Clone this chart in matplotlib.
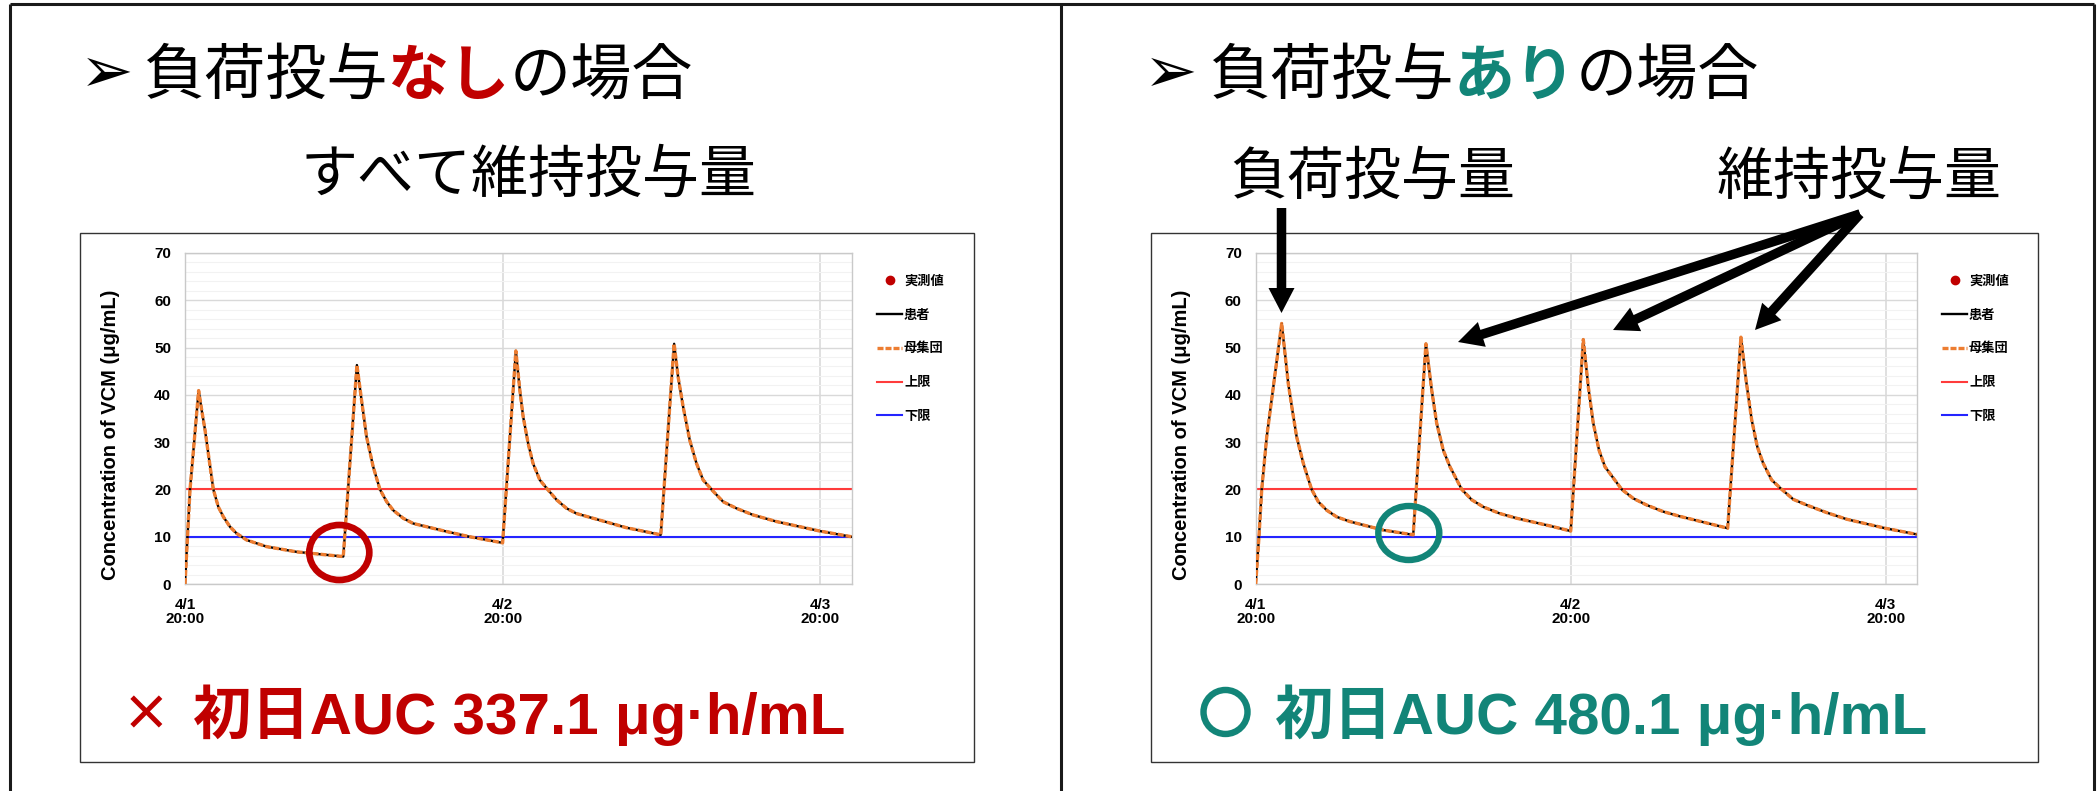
import matplotlib
matplotlib.use("Agg")
import matplotlib.pyplot as plt
import matplotlib.patheffects as pe
from matplotlib.patches import Ellipse, FancyArrow, Rectangle
from matplotlib.ticker import MultipleLocator

plt.rcParams['font.family'] = ['Liberation Sans', 'Noto Sans CJK JP', 'DejaVu Sans']

# ---- data (hours after 4/1 20:00, VCM ug/mL) ----
hours_none = [0, 0.38, 1.03, 1.26, 1.51, 1.76, 2.14, 2.52, 2.9, 3.4, 3.9, 4.66, 6.17, 8.43, 11.96,
              12.99, 13.34, 13.72, 14.22, 14.73, 15.24, 15.73, 16.49, 17.24, 19.76, 21.5, 24.0,
              25.0, 25.3, 25.55, 25.93, 26.3, 26.81, 27.4, 28.08, 28.83, 29.59, 30.84, 33.36, 35.95,
              36.96, 37.26, 37.64, 38.14, 38.65, 39.15, 39.78, 40.66, 41.67, 42.93, 44.7, 47.96, 50.35]
conc_none = [0, 20.0, 40.9, 36.8, 32.6, 27.6, 20.0, 16.3, 14.2, 12.1, 10.7, 9.3, 7.9, 6.8, 5.8,
             46.3, 38.9, 31.1, 24.8, 20.0, 17.4, 15.6, 13.9, 12.8, 11.1, 10.0, 8.7,
             49.3, 41.0, 35.4, 29.7, 25.5, 22.0, 20.0, 17.8, 16.0, 14.9, 13.9, 11.9, 10.4,
             50.8, 43.8, 37.5, 30.4, 25.5, 22.0, 20.0, 17.4, 16.0, 14.6, 13.2, 11.2, 10.0]
pop_none = conc_none  # population curve lies on the patient curve

hours_load = [0, 0.25, 0.46, 0.84, 1.98, 2.23, 2.48, 2.79, 3.12, 3.63, 4.26, 4.77, 5.41, 6.17, 7.18, 9.72, 12.0,
              12.97, 13.41, 13.79, 14.29, 14.8, 15.7, 16.46, 17.34, 18.61, 19.89, 22.4, 24.0,
              24.96, 25.34, 25.72, 26.16, 26.61, 27.89, 28.77, 29.79, 31.06, 32.33, 35.96,
              36.97, 37.36, 37.79, 38.22, 38.67, 39.31, 40.08, 40.96, 41.98, 43.5, 45.03, 47.95, 50.36]
conc_load = [0, 10.0, 20.0, 31.1, 55.1, 48.8, 42.4, 36.8, 31.1, 25.5, 20.0, 17.4, 15.6, 14.2, 13.2, 11.4, 10.4,
             50.8, 41.0, 34.0, 28.3, 24.8, 20.0, 17.8, 16.3, 14.9, 13.9, 12.3, 11.2,
             51.7, 41.7, 34.0, 28.3, 24.8, 20.0, 18.1, 16.7, 15.3, 14.3, 11.8,
             52.2, 43.1, 34.7, 29.0, 25.5, 22.0, 20.0, 17.9, 16.7, 15.1, 13.7, 11.8, 10.5]
pop_load = conc_load

measured_hours = []
measured_conc = []

upper_limit = 20
lower_limit = 10
day_ticks = [0, 24, 48]
day_labels = ['4/1\n20:00', '4/2\n20:00', '4/3\n20:00']
legend_labels = ['実測値', '患者', '母集団', '上限', '下限']

RED = '#C00000'
TEAL = '#128578'
W, H = 2098, 791


def px_rect(x0, y0, x1, y1):
    return [x0 / W, 1 - y1 / H, (x1 - x0) / W, (y1 - y0) / H]


def draw_chart(rect, hours, conc, pop):
    ax = fig.add_axes(rect, zorder=1)
    ax.plot(measured_hours, measured_conc, 'o', color=RED, ms=6, label=legend_labels[0])
    ax.plot(hours, conc, color='black', lw=1.7, zorder=3, label=legend_labels[1])
    ax.plot(hours, pop, color='#ED7D31', lw=2.4, dashes=(1.8, 0.6), zorder=4, label=legend_labels[2])
    ax.axhline(upper_limit, color='#FF3B3B', lw=1.5, zorder=2, label=legend_labels[3])
    ax.axhline(lower_limit, color='#2424FF', lw=1.5, zorder=2, label=legend_labels[4])

    ax.set_xlim(0, 50.4)
    ax.set_ylim(0, 70)
    ax.set_xticks(day_ticks, day_labels)
    ax.set_yticks(range(0, 71, 10))
    ax.yaxis.set_minor_locator(MultipleLocator(2))
    ax.grid(axis='y', which='major', color='#D9D9D9', lw=1.0)
    ax.grid(axis='y', which='minor', color='#F2F2F2', lw=0.8)
    ax.grid(axis='x', which='major', color='#DDDDDD', lw=1.3)
    ax.set_axisbelow(True)
    ax.tick_params(which='both', length=0)
    ax.tick_params(axis='y', pad=10, labelsize=11)
    ax.tick_params(axis='x', pad=10, labelsize=11)
    for t in ax.get_xticklabels() + ax.get_yticklabels():
        t.set_fontweight('bold')
        t.set_linespacing(1.0)
    for s in ax.spines.values():
        s.set_color('#C9C9C9')
        s.set_linewidth(1.0)

    ax.set_ylabel('Concentration of VCM (μg/mL)', fontsize=14.5, fontweight='bold', va='center')
    ax.yaxis.set_label_coords(-0.112, 0.45)

    ax.legend(loc='upper left', bbox_to_anchor=(1.0375, 0.937), frameon=False,
              borderpad=0, borderaxespad=0, handlelength=1.9, handletextpad=0.15,
              labelspacing=1.5, numpoints=1,
              prop={'family': 'Noto Sans CJK JP', 'size': 9.5, 'weight': 'bold'})
    return ax


fig = plt.figure(figsize=(W / 100, H / 100), dpi=100)

# background: slide frame and chart areas
bg = fig.add_axes([0, 0, 1, 1], zorder=0)
bg.set_xlim(0, W)
bg.set_ylim(H, 0)
bg.axis('off')
bg.hlines(4, 10, 2094, color='#1a1a1a', lw=2.2)
bg.vlines([10, 1061, 2094], 4, H, color='#1a1a1a', lw=2.2)
bg.add_patch(Rectangle((80, 233), 894, 529, fc='white', ec='#333333', lw=1.0))
bg.add_patch(Rectangle((1151, 233), 887, 529, fc='white', ec='#333333', lw=1.0))

draw_chart(px_rect(185, 253, 852, 584), hours_none, conc_none, pop_none)
draw_chart(px_rect(1255.7, 253, 1917.2, 584), hours_load, conc_load, pop_load)

# foreground: titles, notes, arrows, circles
fg = fig.add_axes([0, 0, 1, 1], zorder=3)
fg.set_xlim(0, W)
fg.set_ylim(H, 0)
fg.axis('off')

jp = ['Noto Sans CJK JP', 'DejaVu Sans']


def title(x_mark, x_text, word, color):
    fg.text(x_mark, 74, '➢', fontsize=46, family='DejaVu Sans', va='center', ha='left')
    t1 = fg.text(x_text, 77, '負荷投与', fontsize=44, family=jp, va='center', ha='left')
    t2 = fg.annotate(word, xy=(1, 0), xycoords=t1, va='bottom', ha='left',
                     fontsize=44, family=jp, fontweight='bold', color=color)
    fg.annotate('の場合', xy=(1, 0), xycoords=t2, va='bottom', ha='left',
                fontsize=44, family=jp)


title(80, 143, 'なし', RED)
title(1144, 1209, 'あり', TEAL)

fg.text(529, 176, 'すべて維持投与量', fontsize=41, family=jp, ha='center', va='center')
fg.text(1373, 178, '負荷投与量', fontsize=41, family=jp, ha='center', va='center')
fg.text(1859, 178, '維持投与量', fontsize=41, family=jp, ha='center', va='center')

fg.text(145.5, 716, '×', fontsize=35, family=jp, fontweight='bold', color=RED, ha='center', va='center')
fg.text(193, 715, '初日AUC 337.1 μg·h/mL', fontsize=42, fontweight='bold', color=RED, va='center')
fg.text(1225.5, 716, '○', fontsize=37, family=jp, fontweight='bold', color=TEAL, ha='center', va='center',
        path_effects=[pe.withStroke(linewidth=3, foreground=TEAL)])
fg.text(1275, 715, '初日AUC 480.1 μg·h/mL', fontsize=42, fontweight='bold', color=TEAL, va='center')

fg.add_patch(Ellipse((339.3, 552.5), 60, 55, fill=False, ec=RED, lw=4.8))
fg.add_patch(Ellipse((1408.8, 533), 61, 54, fill=False, ec=TEAL, lw=4.6))

arrow_kw = dict(width=9.5, head_width=26, head_length=25, length_includes_head=True,
                color='black', lw=0)
fg.add_patch(FancyArrow(1281.5, 208, 0, 313 - 208, **arrow_kw))
ox, oy = 1860, 214
for tx, ty in [(1458, 342), (1613, 330), (1755, 330)]:
    fg.add_patch(FancyArrow(ox, oy, tx - ox, ty - oy, **arrow_kw))

fig.savefig('out.png', dpi=100)
